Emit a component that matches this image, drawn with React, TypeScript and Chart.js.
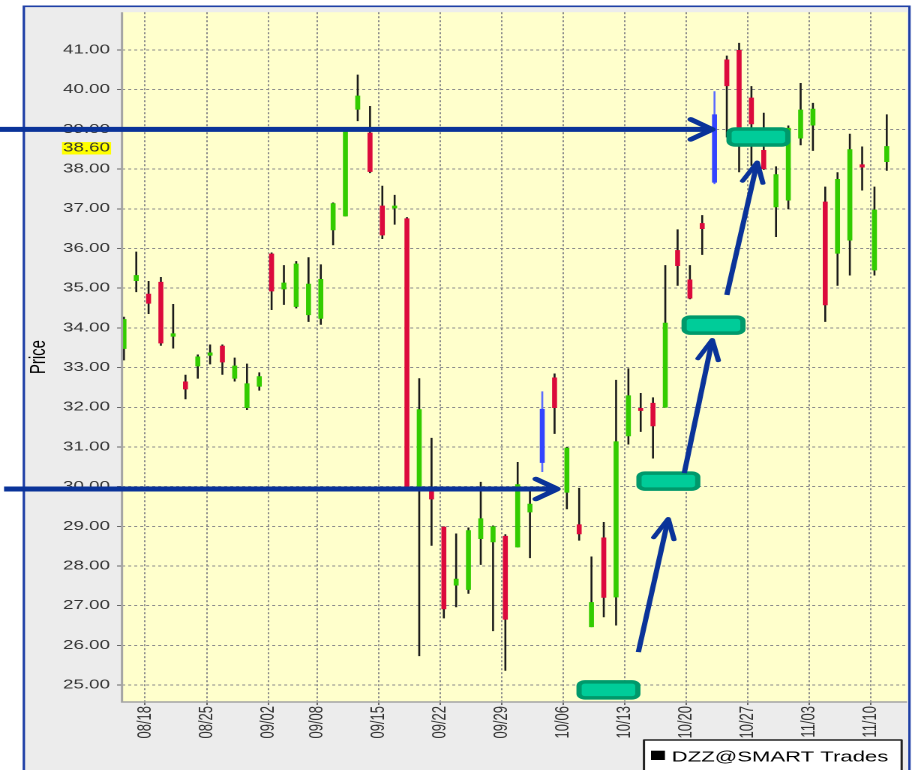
import React, { useEffect, useRef } from 'react';
import { Chart, registerables } from 'chart.js';

Chart.register(...registerables);

// ---------- data ----------
const dates = ['08/14','08/15','08/18','08/19','08/20','08/21','08/22','08/25','08/26','08/27','08/28','08/29',
  '09/02','09/03','09/04','09/05','09/08','09/09','09/10','09/11','09/12','09/15','09/16','09/17','09/18','09/19',
  '09/22','09/23','09/24','09/25','09/26','09/29','09/30','10/01','10/02','10/03','10/06','10/07','10/08','10/09',
  '10/10','10/13','10/14','10/15','10/16','10/17','10/20','10/21','10/22','10/23','10/24','10/27','10/28','10/29',
  '10/30','10/31','11/03','11/04','11/05','11/06','11/07','11/10','11/11'];

const opens = [33.47,35.18,34.86,35.16,33.78,32.65,33.03,33.30,33.55,32.72,
  31.98,32.52,35.87,34.97,34.53,34.32,34.23,36.46,36.81,39.50,
  38.92,37.08,37.01,36.76,29.97,29.89,28.99,27.51,27.40,28.68,
  28.60,28.76,28.47,29.35,30.60,32.75,29.85,29.05,26.46,28.72,
  27.21,31.27,31.98,32.11,31.99,35.96,35.22,36.64,37.66,40.76,
  41.00,39.80,38.48,37.04,37.21,38.77,39.10,37.18,35.87,36.20,
  38.12,35.45,38.18];
const highs = [34.28,35.92,35.18,35.28,34.60,32.82,33.33,33.58,33.58,33.25,
  33.10,32.88,35.90,35.58,35.68,35.78,35.60,37.16,39.05,40.38,
  39.59,37.58,37.35,36.79,32.73,31.23,29.00,28.82,28.97,30.12,
  29.02,28.80,30.62,29.95,32.40,32.85,31.00,29.97,28.24,29.11,
  32.69,32.98,32.36,32.25,35.58,36.48,35.58,36.84,39.96,40.86,
  41.18,40.09,39.42,38.07,39.10,40.17,39.67,37.56,37.92,38.89,
  38.57,37.56,39.38];
const lows = [33.18,34.90,34.35,33.55,33.48,32.20,32.72,33.08,32.82,32.65,
  31.93,32.42,34.45,34.58,34.49,34.15,34.08,36.08,36.81,39.21,
  37.90,36.24,36.60,29.95,25.73,28.51,26.68,26.96,27.30,28.03,
  26.36,25.36,28.47,28.20,30.37,31.33,29.43,28.64,26.46,26.71,
  26.50,31.06,31.38,30.71,31.99,35.06,34.72,35.84,37.62,38.80,
  37.92,38.08,37.98,36.29,36.99,38.60,38.46,34.15,35.06,35.32,
  37.46,35.32,37.96];
const closes = [34.22,35.33,34.61,33.61,33.86,32.45,33.28,33.38,33.13,33.05,
  32.60,32.78,34.92,35.14,35.62,35.11,35.23,37.14,39.04,39.85,
  37.93,36.33,37.08,29.97,31.95,29.68,26.91,27.68,28.90,29.20,
  29.00,26.65,30.06,29.57,31.96,31.98,30.98,28.80,27.09,27.20,
  31.14,32.30,31.91,31.52,34.13,35.56,34.74,36.49,39.38,40.09,
  38.85,39.13,38.00,37.87,39.04,39.50,39.52,34.57,37.75,38.50,
  38.04,36.98,38.58];

const signalDates = ['10/02', '10/22'];
const xTickLabels = ['08/18','08/25','09/02','09/08','09/15','09/22','09/29','10/06','10/13','10/20','10/27','11/03','11/10'];
const yTickValues = [25,26,27,28,29,30,31,32,33,34,35,36,37,38,39,40,41];
const lastPrice = 38.60;
const legendLabel = 'DZZ@SMART Trades';
const axisTitle = 'Price';

// annotation values (trading-day index, price)
const levelPrices = [39.0, 29.94];
const levelTipDays = [47.82, 35.23];
const tradeCenterDays = [39.38, 44.25, 47.92, 51.57];
const tradePrices = [24.88, 30.14, 34.07, 38.81];
const arrowFromDays = [41.81, 45.54, 49.0];
const arrowFromPrices = [25.83, 30.34, 34.83];
const arrowToDays = [44.24, 47.82, 51.47];
const arrowToPrices = [29.19, 33.70, 38.17];

// ---------- styles ----------
const FONT = '"Liberation Sans", Arial, sans-serif';
const GREEN = '#33CC00';
const RED = '#DC0A3C';
const BLUE = '#3344FF';
const BLUE_WICK = '#5A6BFF';
const WICK = '#1A1A1A';
const ARROW = '#0A3399';
const W = 608;
const H = 770;

function drawArrow(ctx: CanvasRenderingContext2D, x0: number, y0: number, x1: number, y1: number,
  lw: number, headLen: number, headAng: number, headLw: number) {
  ctx.strokeStyle = ARROW;
  ctx.lineWidth = lw;
  ctx.lineCap = 'butt';
  ctx.beginPath();
  ctx.moveTo(x0, y0);
  ctx.lineTo(x1, y1);
  ctx.stroke();
  const ang = Math.atan2(y0 - y1, x0 - x1);
  ctx.lineWidth = headLw;
  ctx.lineCap = 'round';
  ctx.lineJoin = 'round';
  ctx.beginPath();
  ctx.moveTo(x1 + headLen * Math.cos(ang + headAng), y1 + headLen * Math.sin(ang + headAng));
  ctx.lineTo(x1, y1);
  ctx.lineTo(x1 + headLen * Math.cos(ang - headAng), y1 + headLen * Math.sin(ang - headAng));
  ctx.stroke();
}

const backgroundPlugin = {
  id: 'bgFrame',
  beforeDraw(chart: any) {
    const { ctx, chartArea: a } = chart;
    ctx.save();
    ctx.fillStyle = '#FFFFFF';
    ctx.fillRect(0, 0, W, H);
    ctx.fillStyle = '#ECECEC';
    ctx.fillRect(15.9, 6.3, 606.3 - 15.9, H);
    ctx.fillStyle = '#FFFFCC';
    ctx.fillRect(a.left, a.top, a.right - a.left, a.bottom - a.top);
    ctx.strokeStyle = '#1E3FA6';
    ctx.lineWidth = 1.6;
    ctx.beginPath();
    ctx.moveTo(15.9, H + 5);
    ctx.lineTo(15.9, 6.3);
    ctx.lineTo(606.3, 6.3);
    ctx.lineTo(606.3, H + 5);
    ctx.stroke();
    ctx.restore();
  },
};

const overlayPlugin = {
  id: 'overlay',
  afterDraw(chart: any) {
    const { ctx, chartArea: a } = chart;
    const xs = chart.scales.x;
    const ys = chart.scales.y;
    ctx.save();
    // plot border (left & bottom)
    ctx.strokeStyle = '#A4A4A4';
    ctx.lineWidth = 1.5;
    ctx.beginPath();
    ctx.moveTo(a.left, a.top);
    ctx.lineTo(a.left, a.bottom);
    ctx.lineTo(a.right, a.bottom);
    ctx.stroke();

    // last price label
    ctx.font = `12.5px ${FONT}`;
    const txt = lastPrice.toFixed(2);
    const tw = ctx.measureText(txt).width;
    const ly = ys.getPixelForValue(lastPrice) + 3;
    const lx = a.left - 8;
    ctx.fillStyle = '#FFFF00';
    ctx.fillRect(lx - tw - 0.7, ly - 6.2, tw + 1.4, 12.4);
    ctx.fillStyle = '#333333';
    ctx.textAlign = 'right';
    ctx.textBaseline = 'middle';
    ctx.fillText(txt, lx, ly);

    // trade boxes
    const bw = 42.7, bh = 19.5, blw = 3.5;
    tradeCenterDays.forEach((d, i) => {
      const cx = xs.getPixelForValue(d);
      const cy = ys.getPixelForValue(tradePrices[i]);
      ctx.beginPath();
      (ctx as any).roundRect(cx - bw / 2 + blw / 2, cy - bh / 2 + blw / 2, bw - blw, bh - blw, 4);
      ctx.fillStyle = '#00CC99';
      ctx.fill();
      ctx.lineWidth = blw;
      ctx.strokeStyle = '#00996B';
      ctx.stroke();
    });

    // horizontal level arrows
    levelPrices.forEach((p, i) => {
      const y = ys.getPixelForValue(p);
      const x1 = xs.getPixelForValue(levelTipDays[i]);
      drawArrow(ctx, i === 0 ? 0 : 2.7, y, x1, y, 5, 17.5, (35 * Math.PI) / 180, 4.5);
    });

    // diagonal arrows
    arrowFromDays.forEach((d, i) => {
      const x0 = xs.getPixelForValue(d);
      const y0 = ys.getPixelForValue(arrowFromPrices[i]);
      const x1 = xs.getPixelForValue(arrowToDays[i]);
      const y1 = ys.getPixelForValue(arrowToPrices[i]);
      drawArrow(ctx, x0, y0, x1, y1, 3.5, 21, (19 * Math.PI) / 180, 3.5);
    });

    // legend
    ctx.fillStyle = '#FFFFFF';
    ctx.fillRect(429.3, 740, 601.1 - 429.3, 40);
    ctx.strokeStyle = '#222222';
    ctx.lineWidth = 1.5;
    ctx.strokeRect(429.3, 740, 601.1 - 429.3, 40);
    ctx.fillStyle = '#000000';
    ctx.fillRect(434, 750.7, 9.3, 9.3);
    ctx.font = `14.75px ${FONT}`;
    ctx.textAlign = 'left';
    ctx.textBaseline = 'alphabetic';
    ctx.fillText(legendLabel, 447.8, 761.5);
    ctx.restore();
  },
};

export default function App() {
  const ref = useRef<HTMLCanvasElement>(null);

  useEffect(() => {
    document.body.style.margin = '0';
    document.body.style.overflow = 'hidden';
    const canvas = ref.current;
    if (!canvas) return;

    const isSignal = dates.map((d) => signalDates.includes(d));
    const bodyColors = dates.map((_, i) => (isSignal[i] ? BLUE : closes[i] >= opens[i] ? GREEN : RED));
    const wickColors = dates.map((_, i) => (isSignal[i] ? BLUE_WICK : WICK));

    const chart = new Chart(canvas, {
      type: 'bar',
      data: {
        datasets: [
          {
            label: 'body',
            data: dates.map((_, i) => ({ x: i, y: [opens[i], closes[i]] })) as any,
            backgroundColor: bodyColors,
            borderWidth: 0,
            grouped: false,
            maxBarThickness: 3.3,
            minBarLength: 2,
            order: 0,
          } as any,
          {
            label: 'wick',
            data: dates.map((_, i) => ({ x: i, y: [lows[i], highs[i]] })) as any,
            backgroundColor: wickColors,
            borderWidth: 0,
            grouped: false,
            maxBarThickness: 1.3,
            order: 1,
          } as any,
        ],
      },
      options: {
        responsive: false,
        devicePixelRatio: 2,
        animation: false,
        events: [],
        layout: { padding: { left: 0, top: 9, right: 3.3, bottom: 0 } },
        plugins: { legend: { display: false }, tooltip: { enabled: false } },
        scales: {
          x: {
            type: 'linear',
            min: -0.16,
            max: 63.65,
            offset: false,
            grid: { offset: false, color: '#8C8C8C', lineWidth: 1, tickLength: 3, tickColor: '#666666' },
            border: { display: false, dash: [2, 2] },
            afterBuildTicks: (scale: any) => {
              scale.ticks = xTickLabels.map((l) => ({ value: dates.indexOf(l) - 0.28 }));
            },
            afterFit: (scale: any) => {
              scale.height = 68;
            },
            ticks: {
              autoSkip: false,
              maxRotation: 90,
              minRotation: 90,
              padding: 1,
              color: '#333333',
              font: { family: FONT, size: 13 },
              callback: (_v: any, i: number) => xTickLabels[i],
            },
          },
          y: {
            type: 'linear',
            min: 24.574,
            max: 41.953,
            beginAtZero: false,
            grid: { color: '#8C8C8C', lineWidth: 1, tickLength: 3.3, tickColor: '#666666' },
            border: { display: false, dash: [2, 2] },
            afterBuildTicks: (scale: any) => {
              scale.ticks = yTickValues.map((v) => ({ value: v }));
            },
            afterFit: (scale: any) => {
              scale.width = 81.33;
            },
            ticks: {
              padding: 4.7,
              color: '#333333',
              font: { family: FONT, size: 12.5 },
              callback: (v: any) => Number(v).toFixed(2),
            },
            title: {
              display: true,
              text: axisTitle,
              color: '#000000',
              font: { family: FONT, size: 15 },
              padding: { top: 17, bottom: 0 },
            },
          },
        },
      } as any,
      plugins: [backgroundPlugin, overlayPlugin],
    });
    return () => chart.destroy();
  }, []);

  return (
    <div
      style={{
        position: 'absolute',
        left: 0,
        top: 0,
        width: W,
        height: H,
        overflow: 'hidden',
        transform: 'scaleX(1.5)',
        transformOrigin: '0 0',
      }}
    >
      <canvas ref={ref} width={W} height={H} style={{ display: 'block', width: W, height: H }} />
    </div>
  );
}
